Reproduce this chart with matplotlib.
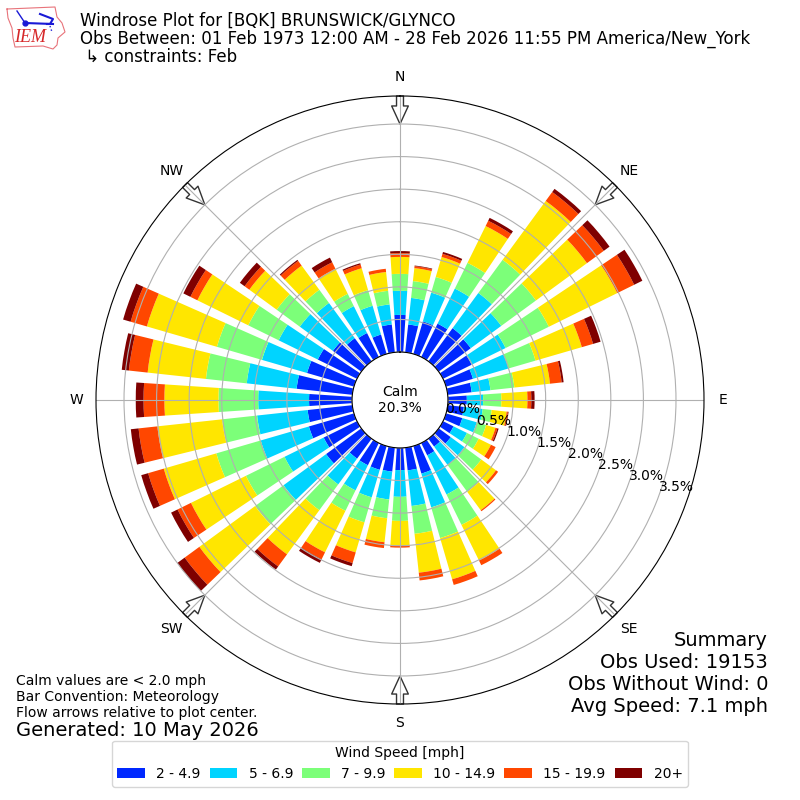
import numpy as np
import matplotlib
matplotlib.use("Agg")
import matplotlib.pyplot as plt

# percent of obs per 10 degree direction, starting at north and going clockwise
directions = np.arange(0, 360, 10)
speed_2_5 = [.57, .43, .52, .57, .63, .61, .49, .43, .37, .29, .25, .26,
             .18, .23, .15, .21, .44, .35, .34, .37, .38, .38, .38, .67,
             .57, .72, .69, .66, .86, .75, .67, .54, .44, .41, .31, .43]
speed_5_7 = [.37, .41, .46, .60, .67, .58, .58, .57, .29, .25, .29, .23,
             .23, .26, .35, .67, .54, .55, .41, .43, .44, .43, .49, .81,
             .67, .77, .78, .78, .77, .72, .67, .63, .67, .46, .46, .31]
speed_7_10 = [.26, .26, .25, .44, .63, .66, .74, .43, .37, .28, .14, .15,
              .20, .32, .51, .52, .49, .43, .37, .29, .40, .35, .49, .54,
              .66, .71, .54, .61, .63, .72, .52, .44, .25, .21, .25, .21]
speed_10_15 = [.26, .20, .32, .63, 1.12, .97, 1.17, .74, .55, .40, .23, .15,
               .21, .28, .35, .61, .66, .60, .38, .37, .48, .71, .84, 1.06,
               .94, .84, 1.00, .83, .90, 1.12, .87, .52, .46, .43, .35, .29]
speed_15_20 = [.06, .03, .05, .09, .17, .32, .29, .18, .18, .06, .02, .03,
               .08, .04, .02, .08, .09, .12, .03, .09, .17, .12, .23, .28,
               .23, .25, .29, .32, .29, .26, .12, .09, .09, .11, .06, .05]
speed_20 = [.03, .01, .03, .05, .06, .11, .14, .12, .03, .05, .01, .02,
            0, 0, 0, 0, 0, 0, 0, 0, .05, .06, .06, .14,
            .11, .11, .12, .12, .11, .12, .12, .09, .02, .08, .02, 0]
series = [speed_2_5, speed_5_7, speed_7_10, speed_10_15, speed_15_20, speed_20]
bin_labels = ["2 - 4.9", "5 - 6.9", "7 - 9.9", "10 - 14.9", "15 - 19.9", "20+"]
bin_colors = ["#0028ff", "#00d4ff", "#7cff79", "#ffe600", "#ff4700", "#7f0000"]

r_ticks = [0, 0.5, 1.0, 1.5, 2.0, 2.5, 3.0, 3.5]
compass = ["N", "NE", "E", "SE", "S", "SW", "W", "NW"]

fig = plt.figure(figsize=(8, 8), dpi=100)
ax = fig.add_axes([0.12, 0.12, 0.76, 0.76], projection="polar")
ax.set_theta_zero_location("N")
ax.set_theta_direction(-1)

theta = np.deg2rad(directions)
bottom = np.zeros(len(directions))
handles = []
for vals, label, color in zip(series, bin_labels, bin_colors):
    bars = ax.bar(theta, vals, width=np.deg2rad(7.6), bottom=bottom,
                  color=color, label=label, linewidth=0)
    handles.append(bars)
    bottom = bottom + np.array(vals)

ax.set_rorigin(-0.736)
ax.set_rlim(0, 3.93)
ax.set_rticks(r_ticks)
ax.set_yticklabels(["%.1f%%" % v for v in r_ticks])
ax.set_rlabel_position(110)
ax.set_thetagrids(np.arange(0, 360, 45), compass)
ax.grid(True)

# flow arrows, pointing in towards the plot center. grid shows through them
for ang in np.arange(0, 360, 45):
    ax.annotate("", xy=(np.deg2rad(ang), 3.5), xytext=(np.deg2rad(ang), 3.93),
                arrowprops=dict(facecolor="white", edgecolor="#333333", width=5,
                                headwidth=12, headlength=13, linewidth=1),
                zorder=1)

ax.text(0.5, 0.5, "Calm\n20.3%", transform=ax.transAxes, ha="center", va="center",
        fontsize=10, zorder=5)

fig.text(0.1, 0.985,
         "Windrose Plot for [BQK] BRUNSWICK/GLYNCO\n"
         "Obs Between: 01 Feb 1973 12:00 AM - 28 Feb 2026 11:55 PM America/New_York\n"
         " ↳ constraints: Feb", va="top", ha="left", fontsize=12, linespacing=1.0)
fig.text(0.96, 0.105, "Summary\nObs Used: 19153\nObs Without Wind: 0\nAvg Speed: 7.1 mph",
         ha="right", va="bottom", ma="right", fontsize=14)
fig.text(0.02, 0.1, "Calm values are < 2.0 mph\nBar Convention: Meteorology\n"
         "Flow arrows relative to plot center.", ha="left", va="bottom", fontsize=10)
fig.text(0.02, 0.075, "Generated: 10 May 2026", ha="left", va="bottom", fontsize=14)

fig.legend(handles=handles, title="Wind Speed [mph]", ncol=6, loc="lower center",
           bbox_to_anchor=(0.5, 0.008), fontsize=10, columnspacing=0.65)

# rough redraw of the IEM logo, in pixel coordinates
logo = fig.add_axes([0, 0, 1, 1], facecolor="none")
logo.set_xlim(0, 800)
logo.set_ylim(800, 0)
logo.axis("off")
logo.plot([7, 55, 57, 62, 65, 58, 57, 53, 43, 15, 13, 12, 8, 7],
          [9, 7, 17, 23, 32, 38, 45, 49, 46, 47, 38, 28, 18, 9], color="#e8737a", lw=0.8)
logo.plot([25, 53], [23, 24], color="#1a1ad6", lw=1.5)
logo.plot([40, 53, 50, 47], [14, 19, 24, 24], color="#1a1ad6", lw=1.5)
logo.plot([17, 25], [11, 23], color="#1a1ad6", lw=1)
logo.plot([25], [23], "o", color="#1a1ad6", ms=3.5)
logo.plot([50, 52], [26, 32], color="#1a1ad6", lw=1, ls=":")
logo.text(30, 38, "IEM", color="#d62728", fontsize=13, family="Liberation Serif",
          style="italic", ha="center", va="center")

fig.savefig("out.png", dpi=100)
